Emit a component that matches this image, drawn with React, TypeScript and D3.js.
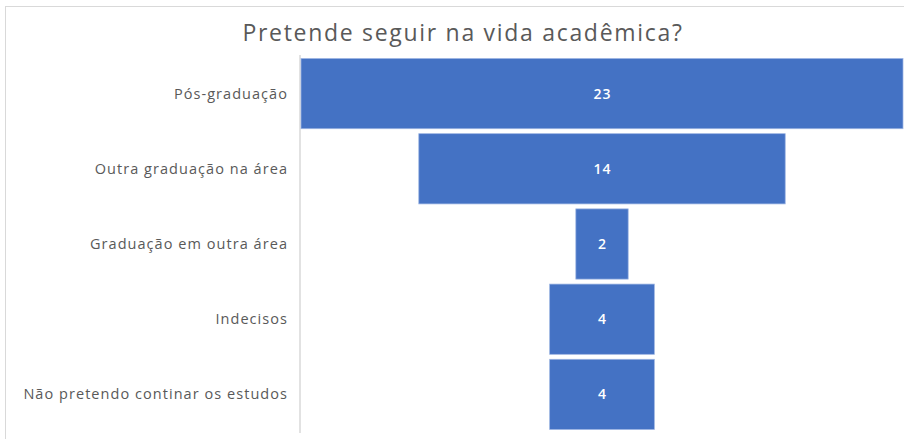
import React from "react";
import * as d3 from "d3";

const categories = [
  "Pós-graduação",
  "Outra graduação na área",
  "Graduação em outra área",
  "Indecisos",
  "Não pretendo continar os estudos",
];
const values = [23, 14, 2, 4, 4];
const title = "Pretende seguir na vida acadêmica?";

export default function App() {
  const W = 904;
  const H = 439;
  const axisX = 300;
  const plotLeft = 301;
  const plotRight = 903;
  const center = (plotLeft + plotRight) / 2;
  const y = d3.scaleBand<string>().domain(categories).range([56, 432]).paddingInner(0.066).paddingOuter(0.033);
  const w = d3.scaleLinear().domain([0, d3.max(values)!]).range([0, plotRight - plotLeft]);

  return (
    <svg width={W} height={H} style={{ position: "absolute", left: 0, top: 0, background: "#fff" }}>
      <rect x={5.5} y={6.5} width={W} height={H} fill="#fff" stroke="#d9d9d9" />
      <text x={463} y={41} textAnchor="middle" fontFamily="'Open Sans', sans-serif" fontSize={23} letterSpacing={1.7} fill="#595959">
        {title}
      </text>
      <line x1={axisX} x2={axisX} y1={55} y2={433} stroke="#d9d9d9" strokeWidth={1.5} />
      {categories.map((c, i) => {
        const bw = w(values[i]);
        const by = y(c)!;
        const bh = y.bandwidth();
        return (
          <g key={c}>
            <rect x={center - bw / 2} y={by} width={bw} height={bh} fill="#4472C4" stroke="#9db5e3" strokeWidth={0.75} />
            <text x={center + 0.5} y={by + bh / 2} dy="0.35em" textAnchor="middle" fontFamily="'Open Sans', sans-serif" fontSize={14} fontWeight={600} letterSpacing={1} fill="#ffffff">
              {values[i]}
            </text>
            <text x={288} y={by + bh / 2} dy="0.35em" textAnchor="end" fontFamily="'Open Sans', sans-serif" fontSize={14.5} letterSpacing={1.05} fill="#595959">
              {c}
            </text>
          </g>
        );
      })}
    </svg>
  );
}
